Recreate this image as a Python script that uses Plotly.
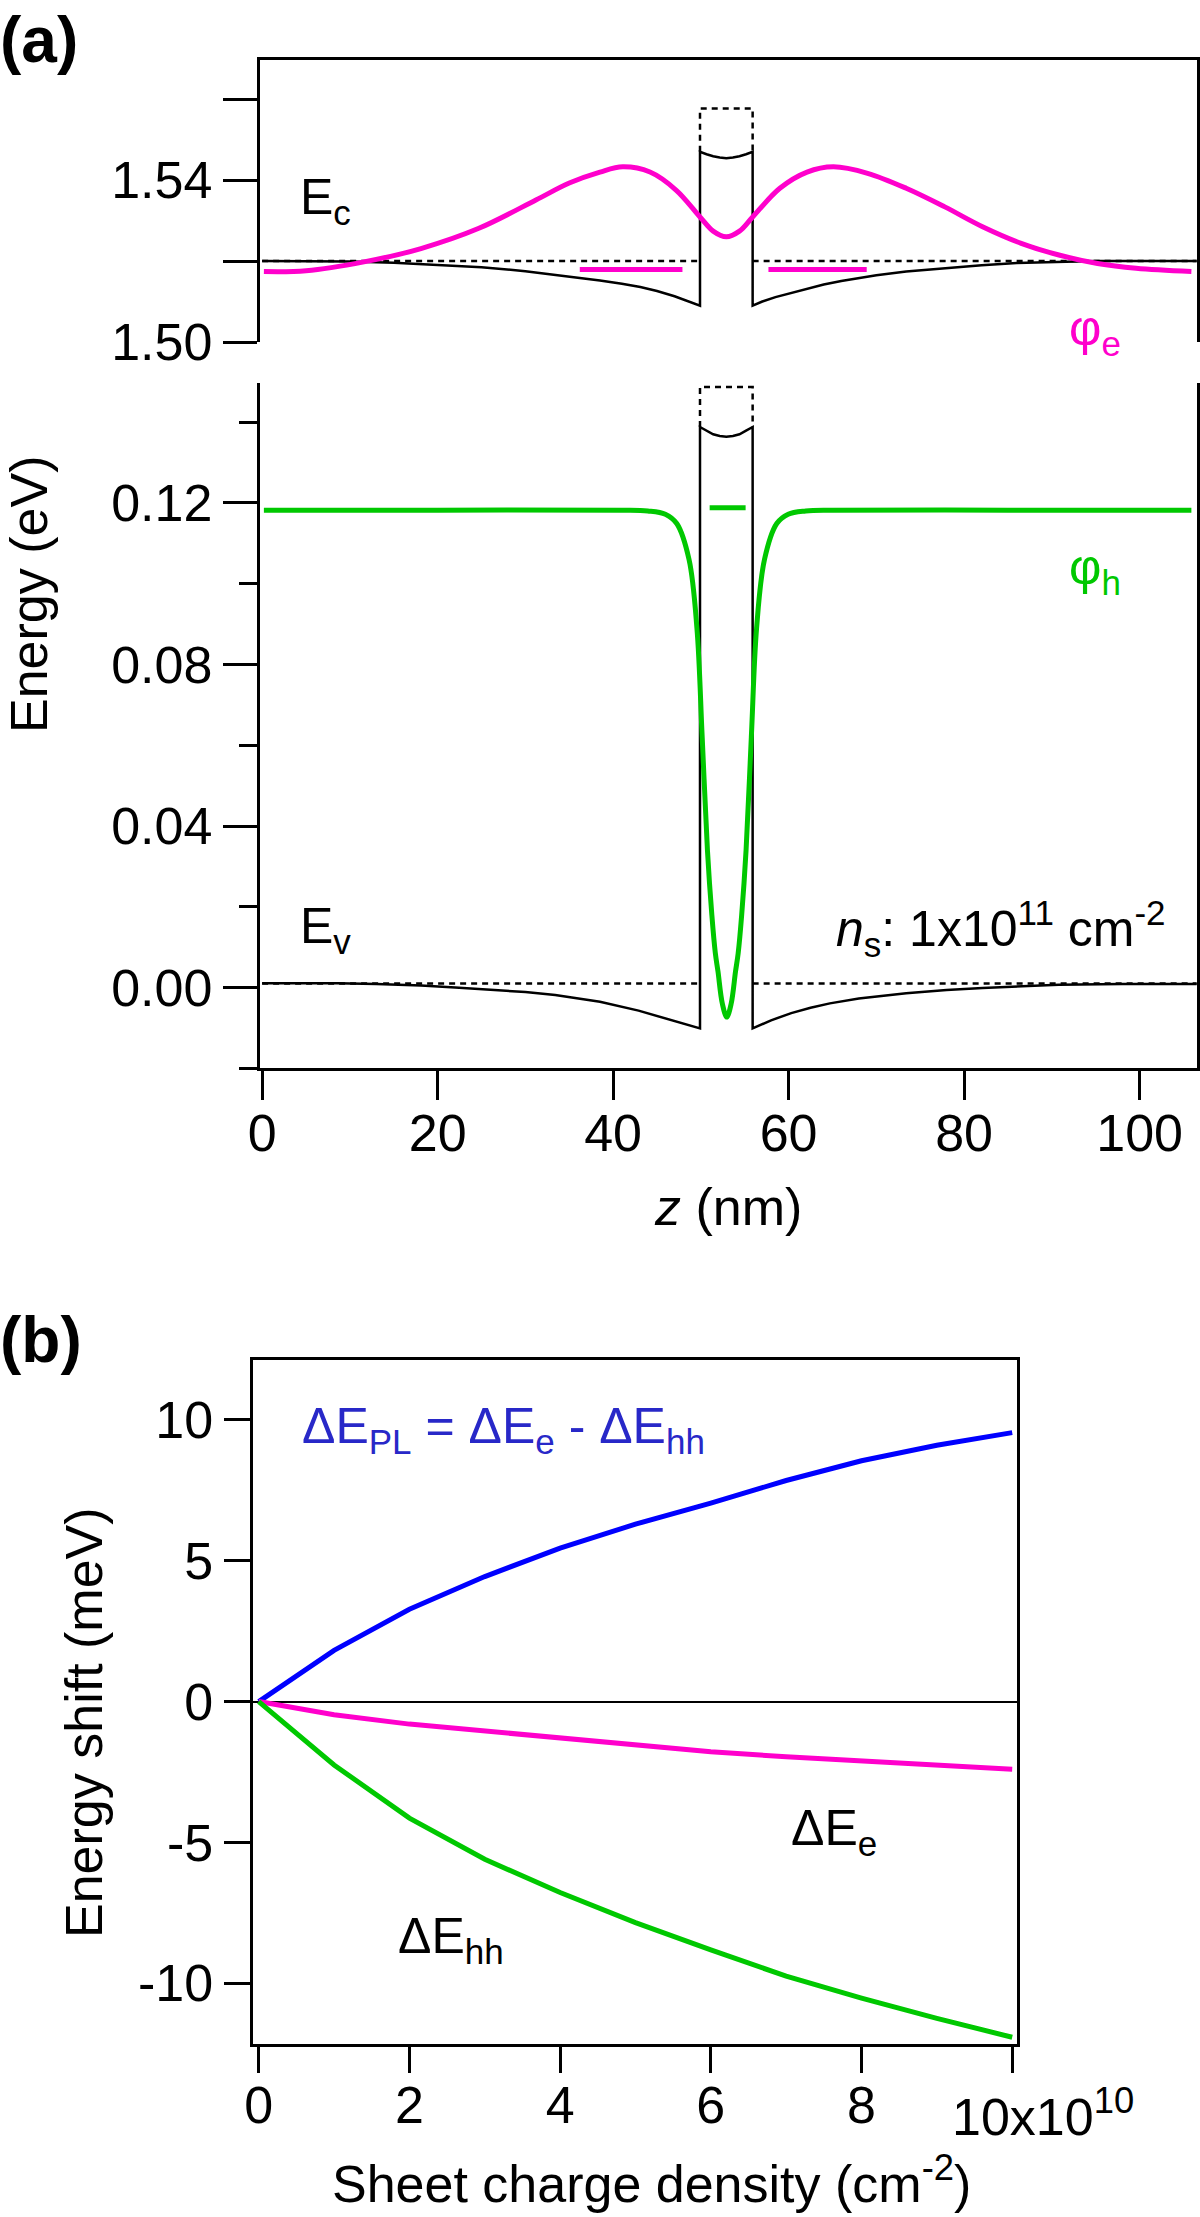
import plotly.graph_objects as go

W, H = 1200, 2217
FONT = "Liberation Sans, Arial, Helvetica, sans-serif"
MAG = "#ff00cc"
GRN = "#00c800"
BLU = "#0000ff"

# ---------------- panel (a): conduction band (upper) ----------------
ec_flat_z = [0, 49.9, None, 55.9, 106.5]
ec_flat_E = [1.52, 1.52, None, 1.52, 1.52]

ec_z = [0, 5, 10, 15, 20, 25, 30, 35, 38.5, 41, 43.1, 45, 47, 49.9,
        49.9, 50.65, 51.4, 52.15, 52.9, 53.65, 54.4, 55.15, 55.9,
        55.9, 57, 58.5, 60.2, 62, 64, 66, 70, 73.4, 78, 82, 86, 90, 95, 100, 106.5]
ec_E = [1.5200, 1.5200, 1.5199, 1.5196, 1.5191, 1.5185, 1.5175, 1.5162, 1.5152, 1.5144,
        1.5136, 1.5126, 1.5113, 1.5090,
        1.5470, 1.5464, 1.5459, 1.5456, 1.5454, 1.5456, 1.5459, 1.5464, 1.5470,
        1.5090, 1.5100, 1.5111, 1.5121, 1.5131, 1.5142, 1.5151, 1.5165, 1.5174, 1.5183,
        1.5190, 1.5195, 1.5198, 1.5200, 1.5200, 1.5200]

ec_box_z = [49.9, 49.9, 55.9, 55.9]
ec_box_E = [1.5470, 1.5577, 1.5577, 1.5470]

phie_z = [0.2, 5, 11.6, 18.1, 24.7, 31.2, 35, 38.5, 41.1, 44.2, 47.2, 49.9, 51.4, 52.9,
          54.4, 55.9, 59.0, 62.1, 65.1, 69.0, 73.4, 77.8, 82.1, 86.5, 90.8, 95.2, 99.6, 105.9]
phie_E = [1.5174, 1.5176, 1.5198, 1.5231, 1.5281, 1.5351, 1.5393, 1.5420, 1.5433, 1.5420,
          1.5375, 1.5309, 1.5274, 1.5260, 1.5274, 1.5309, 1.5380, 1.5420, 1.5433, 1.5417,
          1.5380, 1.5334, 1.5285, 1.5244, 1.5215, 1.5194, 1.5182, 1.5174]

e_level_z = [36.2, 47.9, None, 57.7, 68.9]
e_level_E = [1.5179, 1.5179, None, 1.5179, 1.5179]

# ---------------- panel (a): valence band (lower) ----------------
ev_flat_z = [0, 49.9, None, 55.9, 106.5]
ev_flat_E = [0.0010, 0.0010, None, 0.0010, 0.0010]

ev_z = [0, 8.5, 13, 18.1, 22, 26.8, 30, 33.4, 36, 38.5, 42.9, 46, 49.9,
        49.9, 50.65, 51.4, 52.15, 52.9, 53.65, 54.4, 55.15, 55.9,
        55.9, 58, 60.3, 62.5, 64.7, 68, 73.4, 78, 82.1, 86, 90.8, 98, 106.5]
ev_E = [0.0011, 0.0011, 0.0009, 0.0005, 0.0000, -0.0006, -0.0011, -0.0018, -0.0026,
        -0.0035, -0.0057, -0.0076, -0.0101,
        0.1388, 0.1379, 0.1370, 0.1366, 0.1364, 0.1366, 0.1370, 0.1379, 0.1388,
        -0.0101, -0.0081, -0.0063, -0.0050, -0.0039, -0.0027, -0.0014, -0.0006, -0.0001,
        0.0003, 0.0007, 0.0009, 0.0009]

ev_box_z = [49.9, 49.9, 55.9, 55.9]
ev_box_E = [0.1388, 0.1487, 0.1487, 0.1388]

phih_z = [0.2, 20, 40.95, 43.95, 45.95, 47.25, 48.65, 49.55, 50.15, 50.75, 51.25, 51.65,
          51.95, 52.45, 52.95, 53.45, 53.95, 54.25, 54.65, 55.15, 55.75, 56.35, 57.25,
          58.65, 59.95, 61.95, 64.95, 85, 105.9]
phih_E = [0.1182, 0.1182, 0.1182, 0.1180, 0.1172, 0.1149, 0.1060, 0.0890, 0.0620, 0.0340,
          0.0180, 0.0085, 0.0040, -0.0040, -0.0073, -0.0040, 0.0040, 0.0085, 0.0180,
          0.0340, 0.0620, 0.0890, 0.1060, 0.1149, 0.1172, 0.1180, 0.1182, 0.1182, 0.1182]

h_level_z = [51.0, 55.1]
h_level_E = [0.1188, 0.1188]

# ---------------- panel (b) ----------------
ns_b = [0, 1, 2, 3, 4, 5, 6, 7, 8, 9, 10]          # x 1e10 cm^-2
dE_PL = [0, 1.82, 3.28, 4.44, 5.45, 6.30, 7.05, 7.85, 8.55, 9.10, 9.55]
dE_e = [0, -0.47, -0.80, -1.05, -1.30, -1.55, -1.78, -1.96, -2.12, -2.27, -2.40]
dE_hh = [0, -2.25, -4.14, -5.60, -6.78, -7.85, -8.82, -9.75, -10.53, -11.25, -11.92]

# tick labels
a_top_tickvals = [1.50, 1.52, 1.54, 1.56]
a_top_ticktext = ["1.50", "", "1.54", ""]
a_low_tickvals = [0.00, 0.04, 0.08, 0.12]
a_low_ticktext = ["0.00", "0.04", "0.08", "0.12"]
a_low_minor = [-0.02, 0.02, 0.06, 0.10, 0.14]
a_x_tickvals = [0, 20, 40, 60, 80, 100]
b_x_tickvals = [0, 2, 4, 6, 8, 10]
b_x_ticktext = ["0", "2", "4", "6", "8", ""]
b_y_tickvals = [-10, -5, 0, 5, 10]
b_y_ticktext = ["-10", "-5", "0", "5", "10"]


def px(x):
    return x / W


def py(y):
    return 1 - y / H


fig = go.Figure()


def add(x, y, ax, color, width, dash=None, shape="linear"):
    fig.add_trace(go.Scatter(x=x, y=y, mode="lines", xaxis="x" + ax[0], yaxis="y" + ax[1],
                             line=dict(color=color, width=width, dash=dash, shape=shape),
                             showlegend=False, hoverinfo="skip", connectgaps=False))


DOT = "6px,5px"
# upper
add(ec_flat_z, ec_flat_E, ("", ""), "black", 2.5, DOT)
add(ec_box_z, ec_box_E, ("", ""), "black", 2.5, DOT)
add(ec_z, ec_E, ("", ""), "black", 2.5)
add(phie_z, phie_E, ("", ""), MAG, 5, None, "spline")
add(e_level_z, e_level_E, ("", ""), MAG, 5)
# lower
add(ev_flat_z, ev_flat_E, ("2", "2"), "black", 2.5, DOT)
add(ev_box_z, ev_box_E, ("2", "2"), "black", 2.5, DOT)
add(ev_z, ev_E, ("2", "2"), "black", 2.5)
add(phih_z, phih_E, ("2", "2"), GRN, 5, None, "spline")
add(h_level_z, h_level_E, ("2", "2"), GRN, 5)
# panel b
add(ns_b, dE_PL, ("3", "3"), BLU, 5)
add(ns_b, dE_e, ("3", "3"), MAG, 5)
add(ns_b, dE_hh, ("3", "3"), GRN, 5)

tickfont = dict(family=FONT, size=52, color="black")
common = dict(showgrid=False, linecolor="black", linewidth=2.5, automargin=False,
              tickcolor="black", tickwidth=2.5, tickfont=tickfont, showline=True)

xa_dom = [px(259.5), px(1197)]
fig.update_layout(
    template="none",
    width=W, height=H, margin=dict(l=0, r=0, t=0, b=0, pad=0), autosize=False,
    paper_bgcolor="white", plot_bgcolor="white",
    font=dict(family=FONT, color="black"),
    xaxis=dict(domain=xa_dom, range=[-0.3, 106.54], anchor="y", side="top",
               ticks="", showticklabels=False, zeroline=False, **common),
    yaxis=dict(domain=[py(342), py(60)], range=[1.50, 1.5697], anchor="x", mirror=True,
               ticks="outside", ticklen=34, tickmode="array", tickvals=a_top_tickvals,
               ticktext=a_top_ticktext, zeroline=False, **common),
    xaxis2=dict(domain=xa_dom, range=[-0.3, 106.54], anchor="y2", ticks="outside",
                ticklen=29, tickmode="array", tickvals=a_x_tickvals, zeroline=False,
                ticklabelstandoff=-12, **common),
    yaxis2=dict(domain=[py(1068.4), py(383)], range=[-0.02, 0.1497], anchor="x2", mirror=True,
                ticks="outside", ticklen=34, tickmode="array", tickvals=a_low_tickvals,
                ticktext=a_low_ticktext, zeroline=False,
                minor=dict(tickmode="array", tickvals=a_low_minor, ticks="outside",
                           ticklen=18, tickwidth=2.5, tickcolor="black", showgrid=False),
                **common),
    xaxis3=dict(domain=[px(253.3), px(1017.1)], range=[-0.072, 10.065], anchor="y3",
                mirror=True, ticks="outside", ticklen=26, tickmode="array",
                tickvals=b_x_tickvals, ticktext=b_x_ticktext, zeroline=False,
                ticklabelstandoff=-12, **common),
    yaxis3=dict(domain=[py(2044), py(1360)], range=[-12.16, 12.13], anchor="x3", mirror=True,
                ticks="outside", ticklen=27, tickmode="array", tickvals=b_y_tickvals,
                ticktext=b_y_ticktext, zeroline=True, zerolinecolor="black", zerolinewidth=2,
                **common),
)


def ann(text, x, y, size=50, color="black", xanchor="left", yanchor="middle", angle=0):
    fig.add_annotation(text=text, x=px(x), y=py(y), xref="paper", yref="paper",
                       xanchor=xanchor, yanchor=yanchor, showarrow=False, textangle=angle,
                       font=dict(family=FONT, size=size, color=color))


ann("<b>(a)</b>", -2, 40, size=64)
ann("<b>(b)</b>", -2, 1340, size=64)
ann("E<sub>c</sub>", 298, 200)
ann("φ<sub>e</sub>", 1067, 331, color=MAG)
ann("φ<sub>h</sub>", 1067, 571, color=GRN)
ann("E<sub>v</sub>", 298, 929)
ann("<i>n</i><sub>s</sub>: 1x10<sup>11</sup> cm<sup>-2</sup>", 834, 928)
ann("Energy (eV)", 29, 595, size=52, xanchor="center", angle=-90)
ann("<i>z</i> (nm)", 728, 1207, size=52, xanchor="center")
ann("ΔE<sub>PL</sub> = ΔE<sub>e</sub> - ΔE<sub>hh</sub>", 300, 1429, color="#2828c8")
ann("ΔE<sub>e</sub>", 789, 1831)
ann("ΔE<sub>hh</sub>", 396, 1939)
ann("Energy shift (meV)", 84, 1723, size=52, xanchor="center", angle=-90)
ann("Sheet charge density (cm<sup>-2</sup>)", 651, 2180, size=52, xanchor="center")
ann("10x10<sup>10</sup>", 950, 2113, size=52)

fig.write_html("out.html", config={"displayModeBar": False},
               post_script="document.body.style.margin='0px';")
